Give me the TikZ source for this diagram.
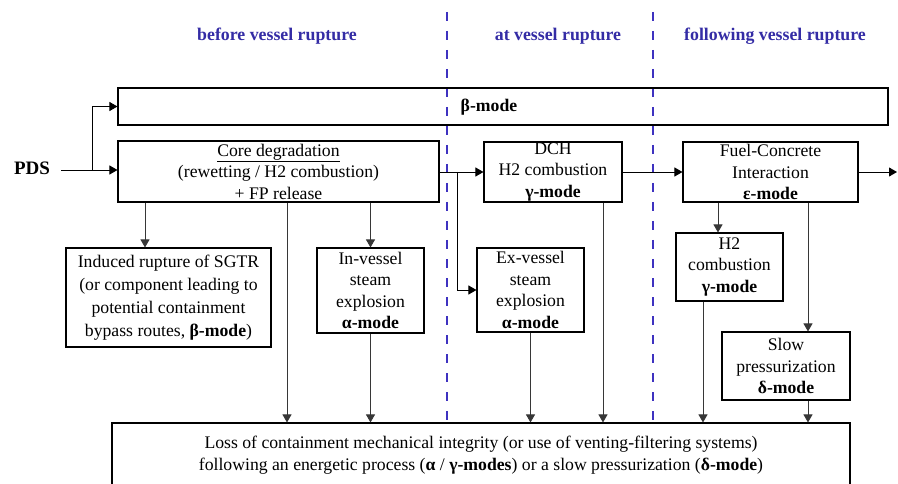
\documentclass[tikz,border=0pt]{standalone}
\usepackage{fontspec}
\setmainfont{Liberation Serif}
\usepackage{xcolor}
\usetikzlibrary{arrows.meta}

\definecolor{rupblue}{RGB}{62,50,192}
\definecolor{headblue}{RGB}{52,44,165}
\definecolor{wiregray}{RGB}{55,55,55}

\begin{document}
\begin{tikzpicture}[x=1pt,y=-1pt,
    box/.style={draw,line width=1.1pt,align=center,inner sep=0pt,
        font=\fontsize{17.7}{21.5}\selectfont},
    arr/.style={-{Triangle[length=8pt,width=9pt]},wiregray,line width=0.9pt},
    phase/.style={headblue,font=\fontsize{17.8}{20}\selectfont\bfseries},
    rupture/.style={rupblue,line width=1.8pt,dash pattern=on 9pt off 10pt}]
    \useasboundingbox (0,0) rectangle (898,484);

    % Phase headers and separators
    \node[phase] (before) at (277,36) {before vessel rupture};
    \node[phase] (at) at (558,36) {at vessel rupture};
    \node[phase] (after) at (775,36) {following vessel rupture};
    \draw[rupture] (447,12) -- (447,423);
    \draw[rupture] (653,12) -- (653,423);

    % Boxes
    \node[box,minimum width=770pt,minimum height=37pt] (beta) at (503,106.5) {};
    \node[font=\fontsize{17.7}{20}\selectfont\bfseries] (betatext) at (489,107) {β-mode};
    \node[box,minimum width=321pt,minimum height=61pt] (core) at (278.5,171.5)
        {\underline{Core degradation}\\(rewetting / H2 combustion)\\+ FP release};
    \node[box,minimum width=138pt,minimum height=60pt] (dch) at (553,172)
        {DCH\\H2 combustion\\\textbf{γ-mode}};
    \node[box,minimum width=175pt,minimum height=60pt] (fci) at (770.5,172)
        {Fuel-Concrete\\Interaction\\\textbf{ε-mode}};
    \node[box,minimum width=205pt,minimum height=99pt,
        font=\fontsize{17.7}{23}\selectfont] (sgtr) at (168.5,297.5)
        {Induced rupture of SGTR\\(or component leading to\\potential containment\\bypass routes, \textbf{β-mode})};
    \node[box,minimum width=107pt,minimum height=85pt] (inv) at (370.5,290.5)
        {In-vessel\\steam\\explosion\\\textbf{α-mode}};
    \node[box,minimum width=107pt,minimum height=84pt] (exv) at (530.5,290)
        {Ex-vessel\\steam\\explosion\\\textbf{α-mode}};
    \node[box,minimum width=107pt,minimum height=68pt] (h2) at (729.5,267)
        {H2\\combustion\\\textbf{γ-mode}};
    \node[box,minimum width=128pt,minimum height=68pt] (slow) at (786,366)
        {Slow\\pressurization\\\textbf{δ-mode}};
    \node[box,minimum width=738pt,minimum height=64pt] (loss) at (481,455)
        {Loss of containment mechanical integrity (or use of venting-filtering systems)\\
         following an energetic process (\textbf{α} / \textbf{γ-modes}) or a slow pressurization (\textbf{δ-mode})};
    \node[font=\fontsize{19}{20}\selectfont\bfseries] (pds) at (32,168) {PDS};

    % Branch points and columns
    \coordinate (pdssplit) at (92,170);
    \coordinate (dchsplit) at (457,172);
    \coordinate (out) at (897,172);
    \coordinate (c1) at (145,0);
    \coordinate (c2) at (287,0);
    \coordinate (c3) at (603,0);
    \coordinate (c4) at (703,0);
    \coordinate (c5) at (718,0);
    \coordinate (c6) at (808,0);

    % Flow along the top
    \draw[arr,black] (pds.east) ++(8,2) -- (core.west |- pdssplit);
    \draw[arr,black] (pdssplit) |- (beta.west);
    \draw[arr,black] (core.east |- dchsplit) -- (dch.west);
    \draw[arr,black] (dchsplit) |- (exv.west);
    \draw[arr,black] (dch.east) -- (fci.west);
    \draw[arr,black] (fci.east) -- (out);

    % Branches downwards
    \draw[arr] (c1 |- core.south) -- (c1 |- sgtr.north);
    \draw[arr] (inv.north |- core.south) -- (inv.north);
    \draw[arr] (c5 |- fci.south) -- (c5 |- h2.north);
    \draw[arr] (c6 |- fci.south) -- (c6 |- slow.north);

    % Into the loss of integrity box
    \draw[arr] (c2 |- core.south) -- (c2 |- loss.north);
    \draw[arr] (inv.south) -- (inv.south |- loss.north);
    \draw[arr] (exv.south) -- (exv.south |- loss.north);
    \draw[arr] (c3 |- dch.south) -- (c3 |- loss.north);
    \draw[arr] (c4 |- h2.south) -- (c4 |- loss.north);
    \draw[arr] (c6 |- slow.south) -- (c6 |- loss.north);
\end{tikzpicture}
\end{document}
